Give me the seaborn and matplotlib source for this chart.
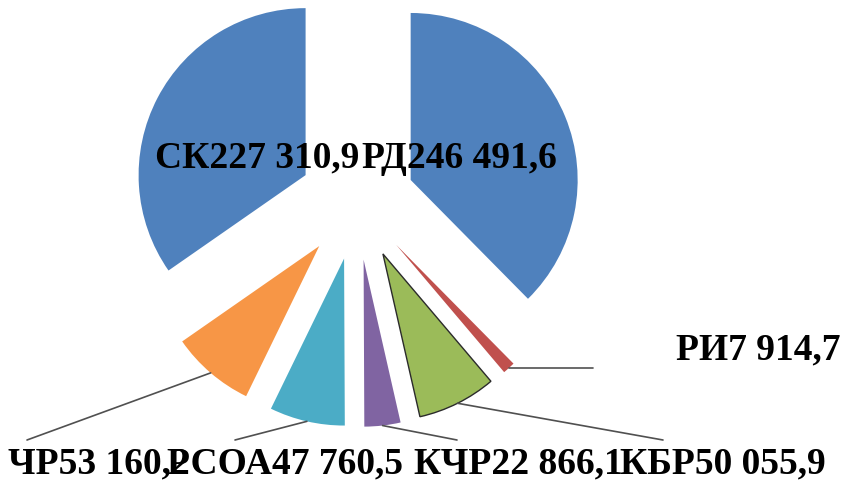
import matplotlib
matplotlib.use("Agg")
import matplotlib.pyplot as plt
import seaborn as sns
import numpy as np

# ── Data ─────────────────────────────────────────────────────────────────────
regions = ["РД", "РИ", "КБР", "КЧР", "РСОА", "ЧР", "СК"]
values = [246491.6, 7914.7, 50055.9, 22866.1, 47760.5, 53160.2, 227310.9]
slice_colors = ["#4F81BD", "#C0504D", "#9BBB59", "#8064A2", "#4BACC6", "#F79646", "#4F81BD"]

# ── Layout (pixel coords, y down, figure is 843x483) ─────────────────────────
W, H = 843, 483
PIE_CENTER = (357, 202)
PIE_RADIUS = 167
EXPLODE = 58
LABEL_POS = {
    "РД": (459, 158), "СК": (257, 158),
    "РИ": (758, 350), "КБР": (723, 464), "КЧР": (518, 464),
    "РСОА": (285, 464), "ЧР": (99, 464),
}
LEADER_END = {
    "РИ": (593, None), "КБР": (663, 440), "КЧР": (457, 440),
    "РСОА": (235, 440), "ЧР": (27, 440),
}


def fmt_ru(v):
    return f"{v:,.1f}".replace(",", " ").replace(".", ",")


def flip(p):
    return (p[0], H - p[1])


sns.set_theme(style="white")
plt.rcParams["font.family"] = ["Liberation Serif", "DejaVu Serif"]

fig = plt.figure(figsize=(W / 100, H / 100), dpi=100)
ax = fig.add_axes([0, 0, 1, 1])

palette = sns.color_palette(slice_colors)
wedges, _ = ax.pie(
    values,
    colors=palette,
    startangle=90,
    counterclock=False,
    explode=[EXPLODE] * len(values),
    radius=PIE_RADIUS,
    center=flip(PIE_CENTER),
    wedgeprops=dict(linewidth=0),
)
# the green slice carries a dark outline in the reference
wedges[2].set_edgecolor("#2b2b2b")
wedges[2].set_linewidth(1.0)

for w, name, v in zip(wedges, regions, values):
    x, y = flip(LABEL_POS[name])
    ax.text(x, y, f"{name}{fmt_ru(v)}", ha="center", va="center",
            fontsize=27, fontweight="bold", color="black", zorder=5)
    if name in LEADER_END:
        mid = np.deg2rad((w.theta1 + w.theta2) / 2)
        cx, cy = w.center
        sx, sy = cx + w.r * np.cos(mid), cy + w.r * np.sin(mid)
        ex, ey_pix = LEADER_END[name]
        ey = sy if ey_pix is None else H - ey_pix
        ax.plot([sx, ex], [sy, ey], color="#505050", lw=1.2, zorder=4)

ax.set_xlim(0, W)
ax.set_ylim(0, H)
ax.set_aspect("equal")
ax.axis("off")

fig.savefig("out.png", dpi=100)
